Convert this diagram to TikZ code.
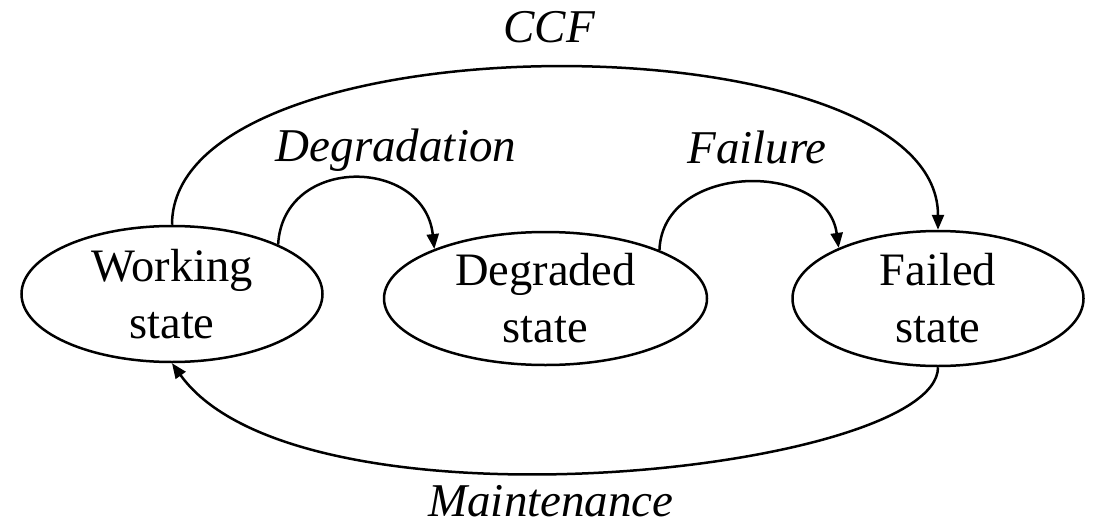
\documentclass[tikz,border=0pt]{standalone}
\usepackage{fontspec}
\setmainfont{Liberation Serif}
\usetikzlibrary{arrows.meta,shapes.geometric}
\begin{document}
\begin{tikzpicture}[x=1pt,y=-1pt,
  state/.style={draw, ellipse, line width=2.5pt, inner sep=0pt, align=center,
    font=\fontsize{46.5}{57}\selectfont},
  trans/.style={line width=2.5pt, -{Triangle[length=15pt,width=12pt]}},
  lbl/.style={font=\fontsize{47}{56}\selectfont\itshape, anchor=base, inner sep=0pt}]
\useasboundingbox (0,0) rectangle (1097,527);

% states
\node[state, minimum width=301pt, minimum height=136pt] (W) at (172,294) {Working\\state};
\node[state, minimum width=323pt, minimum height=133pt] (D) at (545.5,298.5) {Degraded\\state};
\node[state, minimum width=291pt, minimum height=135pt] (F) at (938,298.5) {Failed\\state};

% transitions
\draw[trans] (W.north) .. controls +(0,-210) and +(0,-215) .. (F.north);
\draw[trans] (W.25) .. controls +(5,-90) and +(-10,-92) .. (D.156);
\draw[trans] (D.23) .. controls +(3,-88) and +(-12,-88) .. (F.153);
\draw[trans] (F.south) .. controls +(0,104) and +(128,178) .. (W.south);

% transition labels
\node[lbl] (ccf) at (549,43) {CCF};
\node[lbl] (deg) at (396,161) {Degradation};
\node[lbl] (fail) at (757,163) {Failure};
\node[lbl] (maint) at (551,516) {Maintenance};
\end{tikzpicture}
\end{document}
